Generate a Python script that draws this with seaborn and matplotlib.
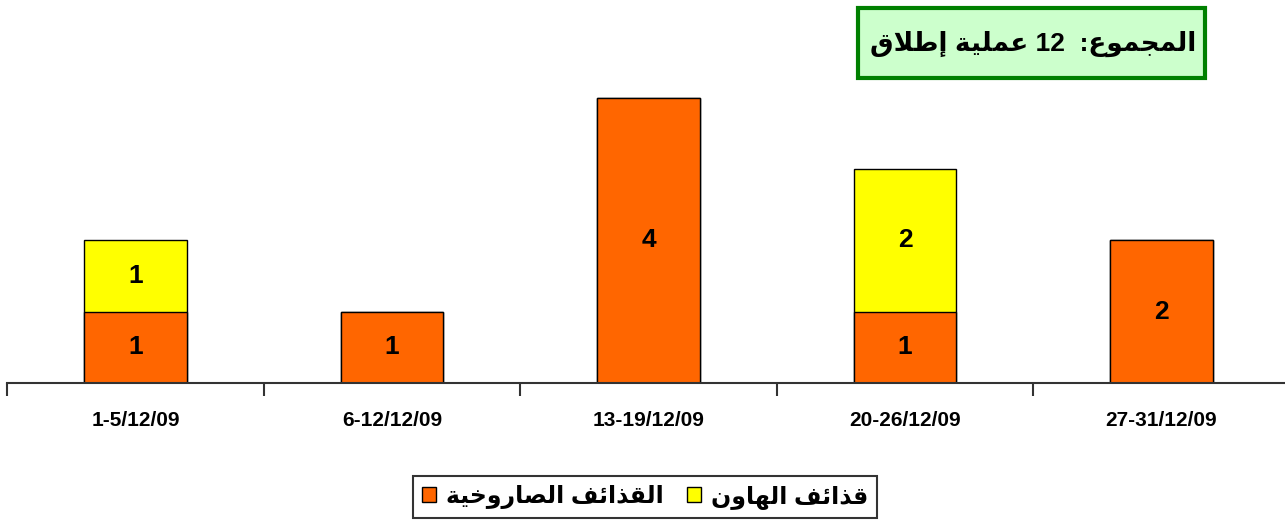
import re
import numpy as np
import pandas as pd
import seaborn as sb
import matplotlib.pyplot as plt
from matplotlib.patches import Rectangle

# Dados do gráfico
weeks = ['1-5/12/09', '6-12/12/09', '13-19/12/09', '20-26/12/09', '27-31/12/09']
rockets = [1, 1, 4, 1, 2]   # القذائف الصاروخية
mortars = [1, 0, 0, 2, 0]   # قذائف الهاون
total_text = 'المجموع:  12 عملية إطلاق'
rockets_label = 'القذائف الصاروخية'
mortars_label = 'قذائف الهاون'

# Formas de apresentação árabes (isolada, final, inicial, medial)
JOIN = {'ا': 0xFE8D, 'إ': 0xFE87, 'ئ': 0xFE89, 'ة': 0xFE93, 'ج': 0xFE9D,
        'خ': 0xFEA5, 'ذ': 0xFEAB, 'ر': 0xFEAD, 'ص': 0xFEB9, 'ط': 0xFEC1,
        'ع': 0xFEC9, 'ف': 0xFED1, 'ق': 0xFED5, 'ل': 0xFEDD, 'م': 0xFEE1,
        'ن': 0xFEE5, 'ه': 0xFEE9, 'و': 0xFEED, 'ي': 0xFEF1}
RIGHT_ONLY = set('اإةذرو')


def shape(text):
    out = []
    i = 0
    n = len(text)
    while i < n:
        c = text[i]
        if c not in JOIN:
            out.append(c)
            i += 1
            continue
        prev = text[i - 1] if i > 0 else ''
        joins_prev = prev in JOIN and prev not in RIGHT_ONLY
        if c == 'ل' and i + 1 < n and text[i + 1] in ('ا', 'إ'):
            lig = 0xFEFB if text[i + 1] == 'ا' else 0xFEF9
            out.append(chr(lig + (1 if joins_prev else 0)))
            i += 2
            continue
        nxt = text[i + 1] if i + 1 < n else ''
        joins_next = c not in RIGHT_ONLY and nxt in JOIN
        if joins_prev and joins_next:
            f = 3
        elif joins_prev:
            f = 1
        elif joins_next:
            f = 2
        else:
            f = 0
        out.append(chr(JOIN[c] + f))
        i += 1
    return ''.join(out)


def visual(text):
    s = shape(text)[::-1]
    return re.sub(r'[0-9]+', lambda m: m.group(0)[::-1], s)


sb.set_style('white')
plt.rcParams['font.family'] = ['Liberation Sans', 'DejaVu Sans']
plt.rcParams['font.weight'] = 'bold'
plt.rcParams['text.color'] = 'black'
plt.rcParams['xtick.color'] = 'black'

df = pd.DataFrame({'week': weeks, 'rockets': rockets, 'mortars': mortars})
df['total'] = df.rockets + df.mortars

fig = plt.figure(figsize=(12.85, 5.25), dpi=100)
ax = fig.add_axes([7.25 / 1285, 1 - 383 / 525, 1282.5 / 1285, 383 / 525])

sb.barplot(data=df, x='week', y='total', color='#FFFF00', edgecolor='black',
           linewidth=1, width=0.4, saturation=1, label=visual(mortars_label), ax=ax)
sb.barplot(data=df, x='week', y='rockets', color='#FF6600', edgecolor='black',
           linewidth=1, width=0.4, saturation=1, label=visual(rockets_label), ax=ax)
if ax.get_legend() is not None:
    ax.get_legend().remove()

# Rótulos dos valores
for i, (r, m) in enumerate(zip(rockets, mortars)):
    if r:
        ax.text(i, r / 2, str(r), ha='center', va='center', fontsize=19,
                fontweight='bold', color='black')
    if m:
        ax.text(i, r + m / 2, str(m), ha='center', va='center', fontsize=19,
                fontweight='bold', color='black')

ax.set_xlim(-0.5, len(weeks) - 0.5)
ax.set_ylim(0, 383 / 71.3)
ax.set_xlabel('')
ax.set_ylabel('')
ax.set_yticks([])
for s in ['top', 'right', 'left']:
    ax.spines[s].set_visible(False)
ax.spines['bottom'].set_linewidth(1.5)
ax.spines['bottom'].set_color('#333333')
ax.set_xticks(np.arange(len(weeks)))
ax.set_xticklabels(weeks, fontsize=15, fontweight='bold', color='black')
ax.set_xticks(np.arange(len(weeks) + 1) - 0.5, minor=True)
ax.tick_params(axis='x', which='major', bottom=False, length=0, pad=20)
ax.tick_params(axis='x', which='minor', bottom=True, length=9, width=1.5,
               color='#333333', direction='out')

# Caixa do total
fig.add_artist(Rectangle((858 / 1285, 1 - 78 / 525), 347 / 1285, 70 / 525,
                         transform=fig.transFigure, facecolor='#CCFFCC',
                         edgecolor='#008000', linewidth=3))
fig.text(1033 / 1285, 1 - 44 / 525, visual(total_text), ha='center', va='center',
         fontsize=19, fontweight='bold', color='black')

# Legenda
bars = ax.containers
leg = fig.legend(handles=[bars[1], bars[0]], loc='center', ncol=2,
                 bbox_to_anchor=(645 / 1285, 1 - 497 / 525), fontsize=17,
                 frameon=True, fancybox=False, edgecolor='black',
                 handlelength=0.6, handleheight=0.6, handletextpad=0.4,
                 columnspacing=1.0, borderpad=0.4)
leg.get_frame().set_linewidth(1.5)
for t in leg.get_texts():
    t.set_color('black')

plt.savefig('out.png', dpi=100)
